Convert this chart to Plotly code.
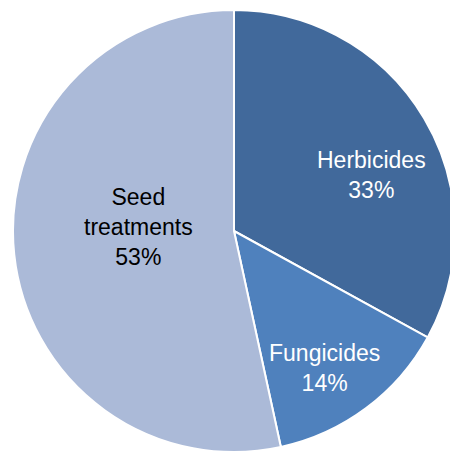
import plotly.graph_objects as go

##### Data #####

labels = ["Herbicides", "Fungicides", "Seed<br>treatments"]
slice_sizes = [33, 13.6, 53.4]   # slice angles as drawn
shares = [33, 14, 53]            # percentages as printed
colors = ["#41699B", "#4F81BD", "#ABBAD8"]
text_colors = ["white", "white", "black"]

# label block centres (pixels from top-left)
label_pos = [(371, 175), (324, 368), (138, 227)]

W, H = 458, 453

##### Figure #####

fig = go.Figure(
    go.Pie(
        labels=labels,
        values=slice_sizes,
        sort=False,
        direction="clockwise",
        rotation=0,
        marker=dict(colors=colors, line=dict(color="white", width=2)),
        textinfo="none",
        hoverinfo="label+percent",
        domain=dict(x=[12 / W, 456 / W], y=[1 - 452 / H, 1 - 10 / H]),
    )
)

for lab, val, col, (px_, py_) in zip(labels, shares, text_colors, label_pos):
    fig.add_annotation(
        x=px_ / W, y=1 - py_ / H, xref="paper", yref="paper",
        text=f"{lab}<br>{val}%", showarrow=False,
        xanchor="center", yanchor="middle", align="center",
        font=dict(family="Liberation Sans, Arial, sans-serif", size=23, color=col),
    )

fig.update_layout(
    width=W,
    height=H,
    margin=dict(l=0, r=0, t=0, b=0),
    showlegend=False,
    paper_bgcolor="white",
    plot_bgcolor="white",
)

fig.write_html(
    "out.html",
    config={"displayModeBar": False},
    post_script="document.body.style.margin='0';document.body.style.overflow='hidden';",
)
